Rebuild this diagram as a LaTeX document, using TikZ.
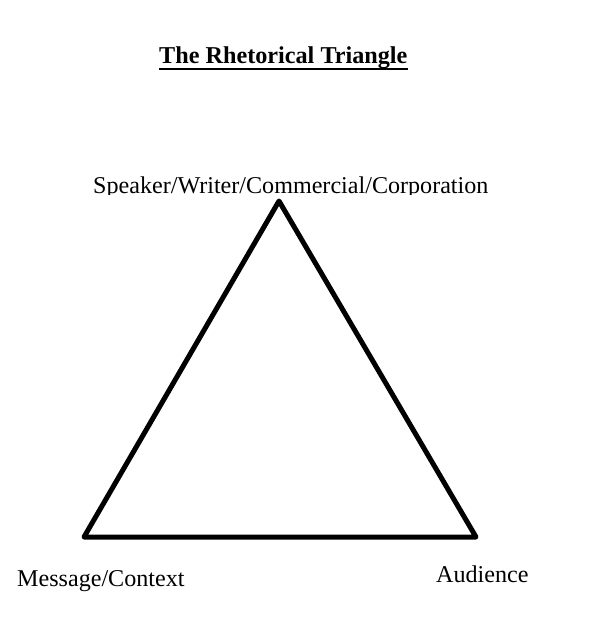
\documentclass[tikz,border=0pt]{standalone}
\usepackage{fontspec}
\setmainfont{Liberation Serif}
\begin{document}
\begin{tikzpicture}[x=1pt,y=-1pt,
  lbl/.style={inner sep=0pt,anchor=base west,font=\fontsize{24.1}{28}\selectfont},
  ttl/.style={inner sep=0pt,anchor=base west,font=\fontsize{24.2}{28}\selectfont\bfseries},
  tri/.style={line width=5pt,line join=round}]
\useasboundingbox[fill=white] (0,0) rectangle (597,627);
\node[ttl] (title) at (159,63) {The Rhetorical Triangle};
\draw[line width=2pt] ([yshift=-6pt]title.base west) coordinate (u1) -- ([yshift=-6pt]title.base east) coordinate (u2);
\coordinate (apex) at (279,201);
\coordinate (bl) at (84,537);
\coordinate (br) at (476,537);
\draw[tri] (apex) -- (bl) -- (br) -- cycle;
\begin{scope}
\clip (0,0) rectangle (597,194);
\node[lbl] (speaker) at (93,193) {Speaker/Writer/Commercial/Corporation};
\end{scope}
\node[lbl] (message) at (17,586) {Message/Context};
\node[lbl] (audience) at (436,582) {Audience};
\end{tikzpicture}
\end{document}
